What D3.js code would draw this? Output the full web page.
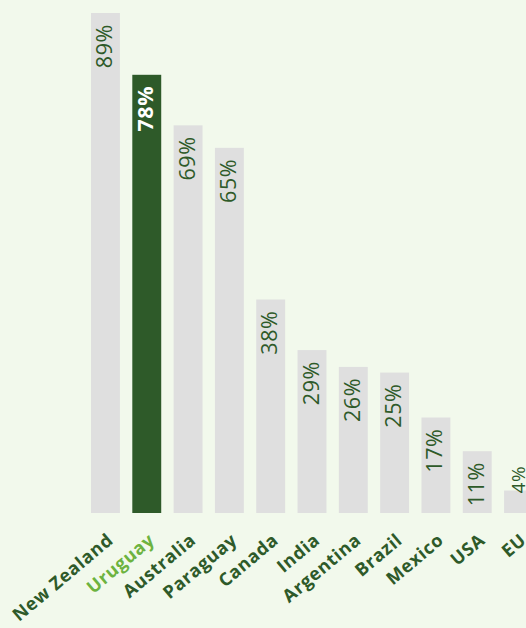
<!DOCTYPE html>
<html><head><meta charset="utf-8">
<script src="https://cdn.jsdelivr.net/npm/d3@7"></script>
<style>
html,body{margin:0;padding:0;background:#f2f9ec;overflow:hidden}
svg{display:block}
</style></head>
<body>
<script>
const categories = ["New Zealand","Uruguay","Australia","Paraguay","Canada","India","Argentina","Brazil","Mexico","USA","EU"];
const values = [89,78,69,65,38,29,26,25,17,11,4];
const highlight = "Uruguay";

const W = 526, H = 628;
const svg = d3.select("body").append("svg").attr("width", W).attr("height", H);
svg.append("rect").attr("width", W).attr("height", H).attr("fill", "#f2f9ec");

const x = d3.scaleBand().domain(categories).range([91, 533]).paddingInner(0.3).paddingOuter(0);
const y = d3.scaleLinear().domain([0, 89]).range([513, 13]);

const data = categories.map((c, i) => ({c, v: values[i]}));

svg.selectAll("rect.bar").data(data).enter().append("rect")
  .attr("class", "bar")
  .attr("x", d => x(d.c))
  .attr("y", d => y(d.v))
  .attr("width", x.bandwidth())
  .attr("height", d => y(0) - y(d.v))
  .attr("fill", d => d.c === highlight ? "#2e5a29" : "#dfdfdf");

const shortBar = d => (y(0) - y(d.v)) < 45;
svg.selectAll("text.val").data(data).enter().append("text")
  .attr("class", "val")
  .attr("transform", d => `translate(${x(d.c) + x.bandwidth()/2 + 6.5},${shortBar(d) ? y(d.v) + 3 : y(d.v) + 11}) rotate(-90)`)
  .attr("text-anchor", d => shortBar(d) ? "start" : "end")
  .attr("font-family", "'Open Sans', sans-serif")
  .attr("font-size", d => shortBar(d) ? 19 : 21.5)
  .attr("letter-spacing", 0.6)
  .attr("font-weight", d => d.c === highlight ? 700 : 500)
  .attr("fill", d => d.c === highlight ? "#ffffff" : "#2e5a29")
  .text(d => d.v + "%");

const axis = d3.axisBottom(x).tickSize(0).tickPadding(0);
const g = svg.append("g").attr("transform", "translate(0,513)").call(axis);
g.select(".domain").remove();
g.selectAll(".tick text")
  .attr("transform", "translate(9,29) rotate(-40)")
  .attr("text-anchor", "end")
  .attr("dy", "0")
  .attr("font-family", "'Open Sans', sans-serif")
  .attr("font-size", 18)
  .attr("letter-spacing", 0.7)
  .attr("font-weight", 700)
  .attr("fill", d => d === highlight ? "#6db33f" : "#2e5a29");
</script>
</body></html>
